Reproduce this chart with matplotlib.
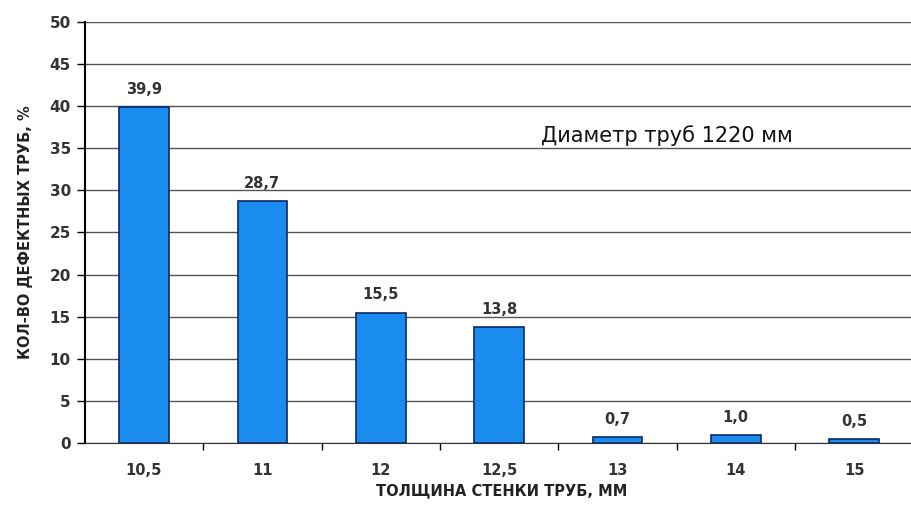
import matplotlib
matplotlib.use("Agg")
import matplotlib.pyplot as plt
import numpy as np

plt.rcParams['font.family'] = ['DejaVu Sans']

# data
thickness = ['10,5', '11', '12', '12,5', '13', '14', '15']
defects = [39.9, 28.7, 15.5, 13.8, 0.7, 1.0, 0.5]
value_labels = ['39,9', '28,7', '15,5', '13,8', '0,7', '1,0', '0,5']
y_ticks = [0, 5, 10, 15, 20, 25, 30, 35, 40, 45, 50]

fig = plt.figure(figsize=(9.12, 5.07), dpi=100)
ax = fig.add_axes([0.093, 0.126, 0.915, 0.831])

x = np.arange(len(thickness))
ax.bar(x, defects, width=0.42, color='#1a8cf0', edgecolor='#0b2a66', linewidth=1.2, zorder=3)

for xi, v, s in zip(x, defects, value_labels):
    ax.text(xi, v + 1.2, s, ha='center', va='bottom', fontsize=10.5, fontweight='bold', color='#333333')

ax.set_ylim(0, 50)
ax.set_xlim(-0.5, len(thickness) - 0.45)
ax.set_yticks(y_ticks)
ax.set_yticklabels([str(t) for t in y_ticks], fontsize=11, fontweight='bold', color='#333333')
ax.yaxis.grid(True, color='#555555', linewidth=1.0, zorder=0)

# category labels centered, tick marks between categories
ax.set_xticks(x)
ax.set_xticklabels(thickness, fontsize=10.5, fontweight='bold', color='#333333')
ax.tick_params(axis='x', length=0, pad=14)
ax.set_xticks(x[:-1] + 0.5, minor=True)
ax.tick_params(axis='x', which='minor', length=5, width=1, direction='out')
ax.tick_params(axis='y', length=6, width=1, direction='out', pad=4)

ax.spines['top'].set_visible(False)
ax.spines['right'].set_visible(False)
ax.spines['left'].set_linewidth(1.5)
ax.spines['bottom'].set_color('#333333')

ax.set_ylabel('КОЛ-ВО ДЕФЕКТНЫХ ТРУБ, %', fontsize=10.5, fontweight='bold', color='#222222', labelpad=12)
ax.set_xlabel('ТОЛЩИНА СТЕНКИ ТРУБ, ММ', fontsize=10.5, fontweight='bold', color='#222222', labelpad=4)

ax.text(3.35, 36.5, 'Диаметр труб 1220 мм', fontsize=15, color='#111111', va='center')

fig.savefig('out.png', dpi=100)
